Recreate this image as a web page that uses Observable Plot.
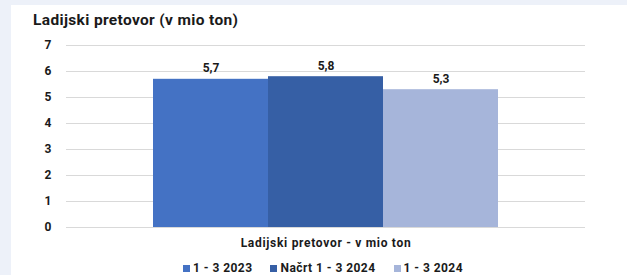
<!DOCTYPE html>
<html>
<head>
<meta charset="utf-8">
<script src="https://cdn.jsdelivr.net/npm/d3@7"></script>
<script src="https://cdn.jsdelivr.net/npm/@observablehq/plot@0.6"></script>
<style>
  html, body { margin: 0; padding: 0; }
  body { width: 627px; height: 275px; background: #edf1f9; position: relative; overflow: hidden;
         font-family: Roboto, "DejaVu Sans", sans-serif; color: #1a1a1a; }
  #card { position: absolute; left: 11px; top: 5px; right: 0; bottom: 0; background: #fff; }
  #title { position: absolute; left: 33px; top: 11px; font-size: 15.5px; letter-spacing: 0.35px; font-weight: bold; white-space: nowrap; }
  #chart { position: absolute; left: 0; top: 36px; }
  #legend { position: absolute; left: 183px; top: 260px; display: flex; gap: 18px; align-items: center;
            font-size: 12px; letter-spacing: 0.45px; font-weight: bold; white-space: nowrap; line-height: 16px; }
  #legend .item { display: flex; align-items: center; }
  #legend .sw { display: inline-block; width: 7px; height: 7px; margin-right: 3px; }
</style>
</head>
<body>
<div id="card"></div>
<div id="title">Ladijski pretovor (v mio ton)</div>
<div id="chart"></div>
<div id="legend"></div>
<script>
const series = ["1 - 3 2023", "Načrt 1 - 3 2024", "1 - 3 2024"];
const values = [5.7, 5.8, 5.3];
const colors = ["#4472c4", "#365fa5", "#a6b5da"];
const yTicks = [0, 1, 2, 3, 4, 5, 6, 7];
const category = "Ladijski pretovor - v mio ton";

const data = series.map((s, i) => ({series: s, value: values[i]}));
const fmt = v => v.toFixed(1).replace(".", ",");

const chart = Plot.plot({
  width: 627,
  height: 220,
  marginLeft: 66,
  marginRight: 42,
  marginTop: 9,
  marginBottom: 29,
  style: {fontFamily: "Roboto, 'DejaVu Sans', sans-serif", fontSize: "12px", fontWeight: "bold", color: "#1a1a1a", background: "transparent", overflow: "visible"},
  x: {domain: series, range: [152, 498], padding: 0, axis: null},
  y: {domain: [0, 7], label: null, axis: null},
  color: {domain: series, range: colors},
  marks: [
    Plot.ruleY(yTicks, {stroke: "#d9d9d9", strokeWidth: 1}),
    Plot.barY(data, {x: "series", y: "value", fill: "series"}),
    Plot.text(data, {x: "series", y: "value", text: d => fmt(d.value), dy: -11, fill: "#1a1a1a", fontWeight: "bold", fontSize: 12}),
    Plot.axisY({ticks: yTicks, tickFormat: "d", tickSize: 0, tickPadding: 15, label: null, fontWeight: "bold", fontSize: 12, fill: "#1a1a1a"}),
    Plot.text([category], {text: d => d, frameAnchor: "bottom", dy: 19, fontWeight: "bold", fontSize: 12, fill: "#1a1a1a", letterSpacing: "0.7px"})
  ]
});
chart.querySelectorAll("text").forEach(t => { if (t.textContent === category) t.style.letterSpacing = "0.7px"; });
document.getElementById("chart").appendChild(chart);

const legend = document.getElementById("legend");
series.forEach((s, i) => {
  const item = document.createElement("span");
  item.className = "item";
  const sw = document.createElement("span");
  sw.className = "sw";
  sw.style.background = colors[i];
  item.appendChild(sw);
  item.appendChild(document.createTextNode(s));
  legend.appendChild(item);
});
</script>
</body>
</html>
